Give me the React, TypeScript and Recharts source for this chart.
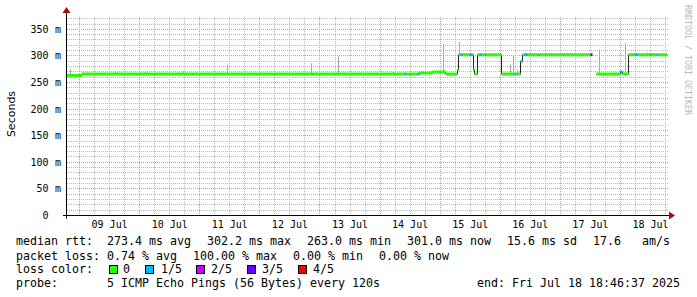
import React from 'react';
import { ComposedChart, Line, XAxis, YAxis, ReferenceLine } from 'recharts';

// time axis: fractional day of July
const rangeStart = 8 + (18 + 46 / 60 + 37 / 3600) / 24;
const rangeEnd = rangeStart + 10;

const dayLabels = ['09 Jul', '10 Jul', '11 Jul', '12 Jul', '13 Jul', '14 Jul', '15 Jul', '16 Jul', '17 Jul', '18 Jul'];
const dayLabelAt = [9.5, 10.5, 11.5, 12.5, 13.5, 14.5, 15.5, 16.5, 17.5, 18.5];
const dayBoundaries = [9, 10, 11, 12, 13, 14, 15, 16, 17, 18];
const quarterOffsets = [0.25, 0.5, 0.75];

const yTicks = [0, 50, 100, 150, 200, 250, 300, 350];
const yMinorStep = 10;
const yMax = 376;

// median rtt steps (ms): start time, value, loss level
const stepStart = [8.782, 9.032, 14.406, 14.44, 14.623, 14.656, 14.872, 15.089, 15.288, 15.305, 15.338, 15.372, 15.488, 15.538, 15.555, 15.571, 15.621, 15.654, 15.688, 15.738, 15.754, 16.02, 16.237, 16.27, 16.337, 16.37, 16.403, 16.453, 16.636, 16.653, 17.501, 17.535, 17.601, 18.0, 18.034, 18.134, 18.233, 18.283, 18.5, 18.516, 18.599, 18.616];
const stepRtt: (number | null)[] = [263, 266, 266, 266, 266, 268, 270, 266, 274, 302, 302, 302, 302, 302, 274, 266, 302, 302, 302, 302, 302, 266, 266, 266, 290, 302, 302, 302, 302, 302, 302, null, 266, 270, 266, 302, 302, 302, 302, 302, 302, 302];
const stepLoss = [0, 0, 1, 0, 1, 0, 0, 0, 0, 0, 1, 0, 1, 0, 0, 0, 0, 1, 0, 1, 0, 0, 1, 0, 1, 0, 1, 0, 1, 0, 3, 0, 0, 1, 0, 0, 1, 0, 1, 0, 1, 0];

// smoke (spread of pings)
const smokeTime = [8.849, 9.598, 10.097, 10.729, 11.461, 12.859, 13.308, 14.223, 15.055, 15.321, 16.17, 16.22, 16.287, 16.42, 17.651, 18.083, 18.45];
const smokeLow = [263, 266, 266, 266, 266, 266, 266, 266, 270, 302, 266, 266, 266, 302, 266, 266, 302];
const smokeHigh = [276, 271, 270, 272, 284, 286, 299, 271, 323, 326, 283, 301, 274, 305, 312, 324, 306];

const lossColors = ['#26ff00', '#00b8ff', '#c800ff', '#6400ff', '#ff0000'];
const lossLabels = ['0', '1/5', '2/5', '3/5', '4/5'];

const statsRtt = ['median rtt:  273.4 ms avg', '302.2 ms max', '263.0 ms min', '301.0 ms now', '15.6 ms sd', '17.6   am/s'];
const statsLoss = ['packet loss: 0.74 % avg', '100.00 % max', '0.00 % min', '0.00 % now'];
const probeText = ['probe:       5 ICMP Echo Pings (56 Bytes) every 120s', 'end: Fri Jul 18 18:46:37 2025'];

// layout
const rttX = [16, 207, 307, 407, 507, 593];
const lossX = [16, 193, 293, 379];
const swatchX = [109, 145, 196, 247, 298];
const swatchLabelX = [123, 161, 211, 262, 313];
const probeX = [16, 477];

const medianLine = [
  ...stepStart.map((t, i) => ({ t, v: stepRtt[i] })),
  { t: rangeEnd, v: stepRtt[stepRtt.length - 1] },
];

function segmentsFor(level: number) {
  const out: { t: number; v: number | null }[] = [];
  for (let i = 0; i < stepStart.length; i++) {
    const v = stepRtt[i];
    if (stepLoss[i] !== level || v === null) continue;
    const next = i + 1 < stepStart.length ? stepStart[i + 1] : rangeEnd;
    out.push({ t: stepStart[i], v }, { t: next, v }, { t: next, v: null });
  }
  return out;
}

const minorV: number[] = [];
dayBoundaries.forEach((d) => quarterOffsets.forEach((q) => minorV.push(d + q)));
const minorH: number[] = [];
for (let v = yMinorStep; v < yMax; v += yMinorStep) if (v % 50 !== 0) minorH.push(v);

const mono = '"DejaVu Sans Mono", monospace';

// dotted grid line from the library's computed end points, snapped to whole pixels
const gridShape = (color: string) => (p: any) => {
  const horizontal = Math.abs(p.y1 - p.y2) < 0.01;
  const x1 = horizontal ? Math.round(p.x1) : Math.floor(p.x1) + 0.5;
  const x2 = horizontal ? Math.round(p.x2) : Math.floor(p.x2) + 0.5;
  const y1 = horizontal ? Math.floor(p.y1) + 0.5 : Math.round(p.y1);
  const y2 = horizontal ? Math.floor(p.y2) + 0.5 : Math.round(p.y2);
  return <line x1={x1} y1={y1} x2={x2} y2={y2} stroke={color} strokeWidth={1} strokeDasharray="1 1" />;
};

const YTick = (props: any) => {
  const { x, y, payload } = props;
  const v = payload.value;
  return (
    <g>
      <text x={x - 18} y={y} dy="0.35em" textAnchor="end" fontFamily={mono} fontSize={10} fill="#000">{v}</text>
      {v !== 0 && (
        <text x={x - 5.5} y={y} dy="0.35em" textAnchor="end" fontFamily={mono} fontSize={10} fill="#000">m</text>
      )}
    </g>
  );
};

const txt: React.CSSProperties = {
  position: 'absolute',
  fontFamily: mono,
  fontSize: 11.63,
  lineHeight: '14px',
  whiteSpace: 'pre',
  color: '#000',
};

export default function App() {
  const minorShape = gridShape('#b8b8b8');
  const majorShape = gridShape('#e29090');
  return (
    <div style={{ position: 'absolute', left: 0, top: 0, width: 697, height: 297, background: '#fff', overflow: 'hidden' }}>
      <ComposedChart width={697} height={297} margin={{ top: 15.5, right: 29.5, bottom: 51.5, left: 0 }}>
        <XAxis
          type="number"
          dataKey="t"
          domain={[rangeStart, rangeEnd]}
          ticks={dayLabelAt}
          tickFormatter={(v: number) => dayLabels[dayLabelAt.indexOf(v)] ?? ''}
          tickLine={false}
          tickSize={0}
          tickMargin={5}
          height={30}
          axisLine={false}
          tick={{ fontFamily: mono, fontSize: 10, fill: '#000' }}
          allowDataOverflow
          interval={0}
        />
        <YAxis
          type="number"
          domain={[0, yMax]}
          ticks={yTicks}
          width={66.5}
          tickLine={false}
          tickSize={0}
          tickMargin={0}
          axisLine={false}
          tick={<YTick />}
          allowDataOverflow
          interval={0}
        />
        {minorH.map((v) => (
          <ReferenceLine key={'mh' + v} y={v} shape={minorShape} />
        ))}
        {minorV.map((v) => (
          <ReferenceLine key={'mv' + v} x={v} shape={minorShape} />
        ))}
        {yTicks.filter((v) => v > 0).map((v) => (
          <ReferenceLine key={'Mh' + v} y={v} shape={majorShape} />
        ))}
        {dayBoundaries.map((v) => (
          <ReferenceLine key={'Mv' + v} x={v} shape={majorShape} />
        ))}
        {smokeTime.map((t, i) => (
          <Line
            key={'s' + i}
            data={[{ t, v: smokeLow[i] }, { t, v: smokeHigh[i] }]}
            dataKey="v"
            type="linear"
            stroke="#a8a8a8"
            strokeWidth={1}
            dot={false}
            activeDot={false}
            isAnimationActive={false}
          />
        ))}
        <Line
          data={medianLine}
          dataKey="v"
          type="stepAfter"
          stroke="#202020"
          strokeWidth={1}
          dot={false}
          activeDot={false}
          isAnimationActive={false}
        />
        {lossColors.map((c, level) => (
          <Line
            key={'l' + level}
            data={segmentsFor(level)}
            dataKey="v"
            type="linear"
            stroke={c}
            strokeWidth={3}
            dot={false}
            activeDot={false}
            connectNulls={false}
            isAnimationActive={false}
          />
        ))}
      </ComposedChart>

      <svg width={697} height={297} style={{ position: 'absolute', left: 0, top: 0, pointerEvents: 'none' }}>
        <line x1={66.5} y1={10} x2={66.5} y2={218.5} stroke="#000" strokeWidth={1} />
        <line x1={63} y1={215.5} x2={670} y2={215.5} stroke="#000" strokeWidth={1} />
        <polygon points="62.5,13 70.5,13 66.5,7" fill="#a01010" />
        <polygon points="669,211.5 669,219.5 675,215.5" fill="#a01010" />
        <text
          x={11}
          y={114}
          transform="rotate(-90 11 114)"
          textAnchor="middle"
          dominantBaseline="central"
          fontFamily='"DejaVu Sans", sans-serif'
          fontSize={11}
          fill="#000"
        >
          Seconds
        </text>
        <text
          x={688}
          y={5}
          transform="rotate(90 688 5)"
          textAnchor="start"
          dominantBaseline="central"
          fontFamily={mono}
          fontSize={8.3}
          fill="#b8b8b8"
        >
          RRDTOOL / TOBI OETIKER
        </text>
      </svg>

      {statsRtt.map((s, i) => (
        <div key={'r' + i} style={{ ...txt, left: rttX[i], top: 234 }}>{s}</div>
      ))}
      {statsLoss.map((s, i) => (
        <div key={'p' + i} style={{ ...txt, left: lossX[i], top: 248.5 }}>{s}</div>
      ))}
      <div style={{ ...txt, left: 16, top: 262 }}>loss color:</div>
      {lossColors.map((c, i) => (
        <React.Fragment key={'c' + i}>
          <div style={{ position: 'absolute', left: swatchX[i], top: 265, width: 7, height: 7, background: c, border: '1px solid #000' }} />
          <div style={{ ...txt, left: swatchLabelX[i], top: 262 }}>{lossLabels[i]}</div>
        </React.Fragment>
      ))}
      {probeText.map((s, i) => (
        <div key={'pr' + i} style={{ ...txt, left: probeX[i], top: 276 }}>{s}</div>
      ))}
    </div>
  );
}
